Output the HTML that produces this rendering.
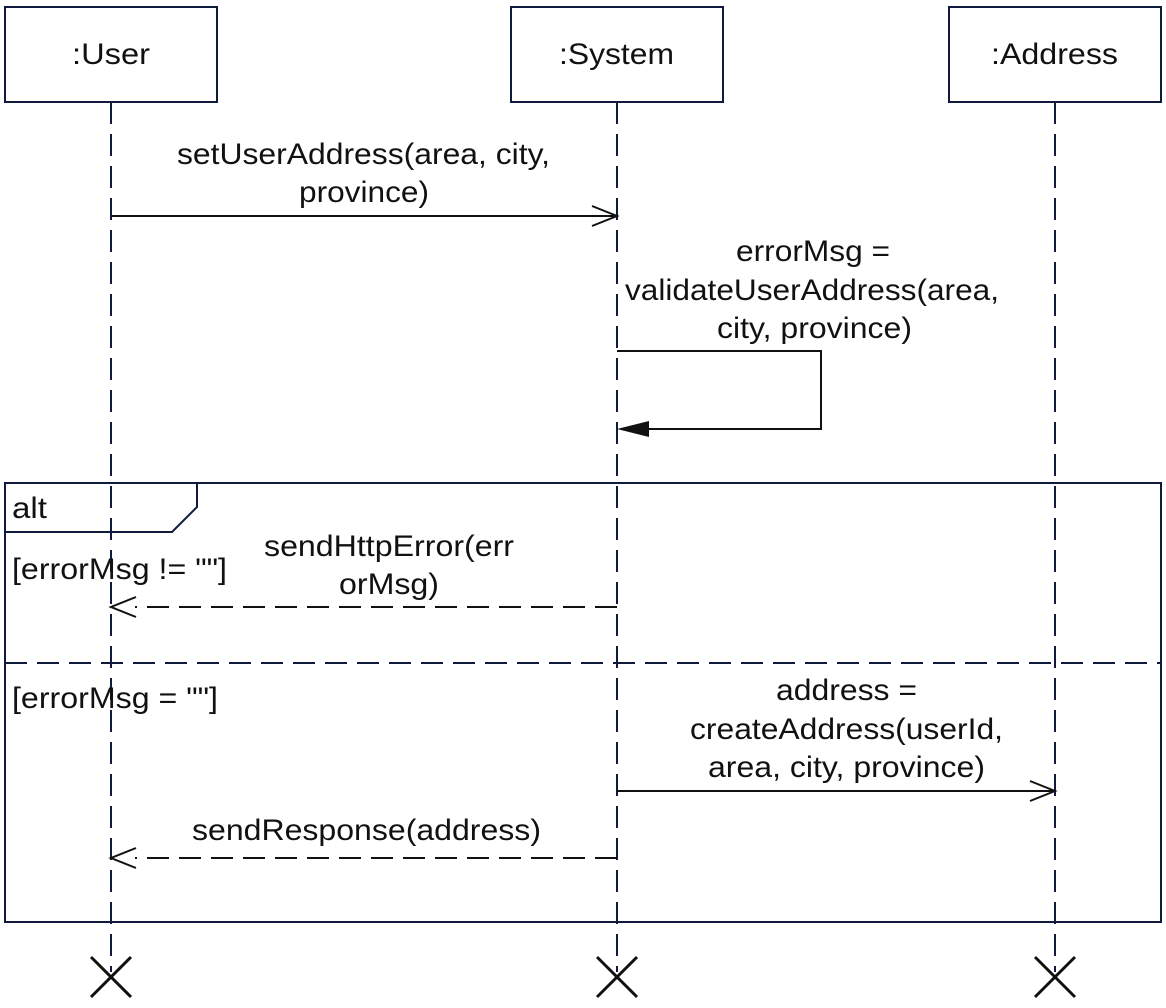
<!DOCTYPE html>
<html><head><meta charset="utf-8"><style>
html,body{margin:0;padding:0;background:#fff;}
svg{display:block;}
text{font-family:"Liberation Sans",Arial,sans-serif;font-size:30px;fill:#111;}
</style></head><body>
<svg width="1166" height="1008" viewBox="0 0 1166 1008" xmlns="http://www.w3.org/2000/svg">
<g fill="none" stroke="#0f1a3c" stroke-width="2">
<rect x="5" y="7" width="212" height="95"/>
<rect x="511" y="7" width="212" height="95"/>
<rect x="949" y="7" width="212" height="95"/>
<g stroke-dasharray="22 10">
<line x1="111" y1="102" x2="111" y2="972"/>
<line x1="617" y1="102" x2="617" y2="972"/>
<line x1="1055" y1="102" x2="1055" y2="972"/>
<line x1="5" y1="663" x2="1161" y2="663"/>
</g>
<rect x="5" y="483" width="1156" height="439"/>
<polyline points="5,532 172,532 197,507 197,483"/>
</g>
<g fill="none" stroke="#111" stroke-width="2">
<line x1="111" y1="216" x2="617" y2="216"/>
<polyline points="592,206 617,216 592,226"/>
<polyline points="617,351 821,351 821,429 645,429"/>
<line x1="617" y1="607" x2="135" y2="607" stroke-dasharray="22 10"/>
<polyline points="136,597 111,607 136,617"/>
<line x1="617" y1="791" x2="1055" y2="791"/>
<polyline points="1030,781 1055,791 1030,801"/>
<line x1="617" y1="858" x2="135" y2="858" stroke-dasharray="22 10"/>
<polyline points="136,848 111,858 136,868"/>
</g>
<polygon points="617,429 649,421 649,437" fill="#111"/>
<g stroke="#111" stroke-width="3">
<line x1="91" y1="957" x2="131" y2="997"/><line x1="131" y1="957" x2="91" y2="997"/>
<line x1="597" y1="957" x2="637" y2="997"/><line x1="637" y1="957" x2="597" y2="997"/>
<line x1="1035" y1="957" x2="1075" y2="997"/><line x1="1075" y1="957" x2="1035" y2="997"/>
</g>
<g lengthAdjust="spacingAndGlyphs">
<text x="72" y="64" textLength="78" lengthAdjust="spacingAndGlyphs">:User</text>
<text x="559" y="64" textLength="115" lengthAdjust="spacingAndGlyphs">:System</text>
<text x="991" y="64" textLength="127" lengthAdjust="spacingAndGlyphs">:Address</text>
<text x="177" y="164" textLength="373" lengthAdjust="spacingAndGlyphs">setUserAddress(area, city,</text>
<text x="299" y="202" textLength="130" lengthAdjust="spacingAndGlyphs">province)</text>
<text x="736" y="261" textLength="154" lengthAdjust="spacingAndGlyphs">errorMsg =</text>
<text x="625" y="300" textLength="374" lengthAdjust="spacingAndGlyphs">validateUserAddress(area,</text>
<text x="717" y="338" textLength="195" lengthAdjust="spacingAndGlyphs">city, province)</text>
<text x="264" y="556" textLength="250" lengthAdjust="spacingAndGlyphs">sendHttpError(err</text>
<text x="339" y="594" textLength="100" lengthAdjust="spacingAndGlyphs">orMsg)</text>
<text x="776" y="700" textLength="141" lengthAdjust="spacingAndGlyphs">address =</text>
<text x="690" y="739" textLength="313" lengthAdjust="spacingAndGlyphs">createAddress(userId,</text>
<text x="708" y="777" textLength="277" lengthAdjust="spacingAndGlyphs">area, city, province)</text>
<text x="192" y="840" textLength="349" lengthAdjust="spacingAndGlyphs">sendResponse(address)</text>
<text x="12" y="518" textLength="35" lengthAdjust="spacingAndGlyphs">alt</text>
<text x="12" y="579" textLength="215" lengthAdjust="spacingAndGlyphs">[errorMsg != ""]</text>
<text x="12" y="708" textLength="206" lengthAdjust="spacingAndGlyphs">[errorMsg = ""]</text>
</g>
</svg>
</body></html>
